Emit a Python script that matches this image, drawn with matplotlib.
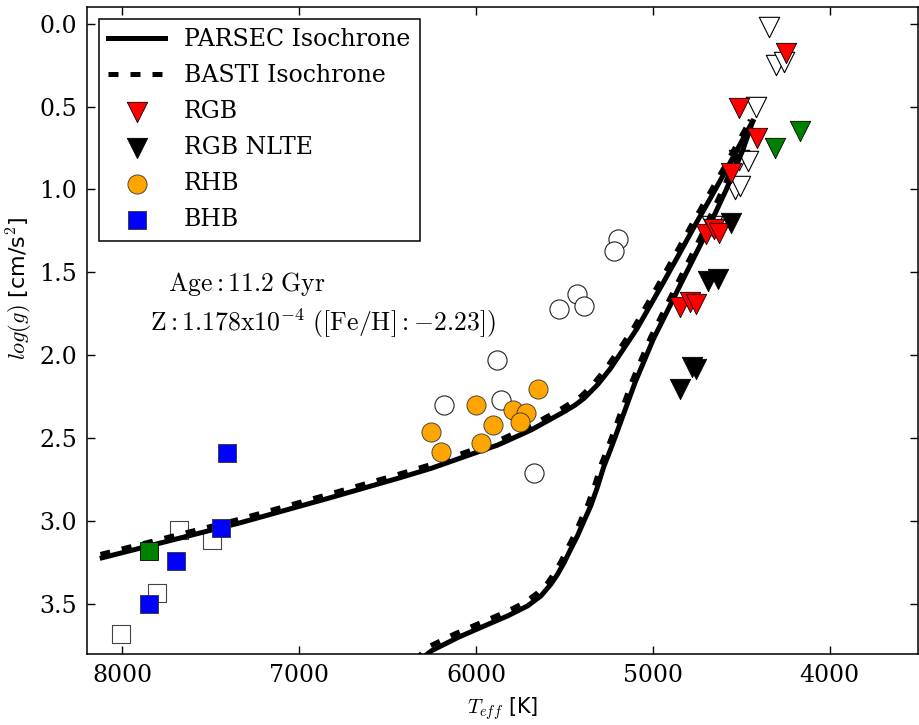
import matplotlib
matplotlib.use("Agg")
import matplotlib.pyplot as plt

plt.rcParams['mathtext.fontset'] = 'cm'
plt.rcParams['font.family'] = ['DejaVu Serif']

# ---------------- data ----------------
# PARSEC isochrone (solid): horizontal branch / AGB and RGB
parsec_hb_teff = [8114, 7337, 6831, 6438, 6251, 6064, 5876, 5689, 5502, 5440, 5390, 5315, 5240, 5165, 5090, 5015, 4940, 4846, 4753, 4678, 4584, 4472, 4435]
parsec_hb_logg = [3.22, 3.01, 2.86, 2.74, 2.68, 2.61, 2.54, 2.45, 2.34, 2.30, 2.26, 2.18, 2.08, 1.96, 1.84, 1.70, 1.56, 1.38, 1.20, 1.06, 0.88, 0.66, 0.59]
parsec_rgb_teff = [6320, 6251, 6101, 5951, 5820, 5708, 5633, 5577, 5539, 5502, 5465, 5427, 5390, 5352, 5315, 5277, 5240, 5212, 5099, 4996, 4921, 4847, 4781, 4715, 4650, 4584, 4537, 4490, 4435]
parsec_rgb_logg = [3.84, 3.78, 3.70, 3.63, 3.57, 3.51, 3.45, 3.38, 3.32, 3.25, 3.17, 3.09, 3.00, 2.91, 2.80, 2.67, 2.57, 2.49, 2.16, 1.90, 1.74, 1.58, 1.44, 1.30, 1.15, 1.00, 0.88, 0.76, 0.59]

# BASTI isochrone (dashed)
basti_hb_teff = [8124, 7347, 6841, 6448, 6261, 6075, 5887, 5700, 5514, 5453, 5404, 5330, 5256, 5181, 5106, 5031, 4956, 4862, 4769, 4693, 4598, 4484, 4446]
basti_hb_logg = [3.20, 2.99, 2.84, 2.72, 2.66, 2.59, 2.52, 2.43, 2.32, 2.28, 2.245, 2.165, 2.065, 1.95, 1.83, 1.69, 1.55, 1.37, 1.19, 1.05, 0.87, 0.65, 0.575]
basti_rgb_teff = [6345, 6275, 6122, 5970, 5838, 5724, 5650, 5594, 5556, 5518, 5481, 5443, 5406, 5368, 5331, 5293, 5256, 5228, 5115, 5012, 4937, 4863, 4797, 4731, 4666, 4600, 4553, 4505, 4448]
basti_rgb_logg = [3.84, 3.76, 3.68, 3.61, 3.55, 3.49, 3.43, 3.37, 3.31, 3.24, 3.16, 3.08, 2.99, 2.90, 2.79, 2.66, 2.56, 2.48, 2.15, 1.89, 1.73, 1.57, 1.43, 1.29, 1.14, 0.99, 0.87, 0.75, 0.58]

# RGB stars
rgb_teff = [4247, 4512, 4412, 4556, 4700, 4655, 4626, 4848, 4792, 4753]
rgb_logg = [0.18, 0.51, 0.69, 0.90, 1.27, 1.24, 1.26, 1.71, 1.68, 1.69]

# RGB NLTE
nlte_teff = [4556, 4688, 4632, 4781, 4753, 4846]
nlte_logg = [1.20, 1.55, 1.54, 2.07, 2.08, 2.20]

# RHB
rhb_teff = [5648, 5998, 5792, 5717, 5751, 5904, 6254, 5970, 6199]
rhb_logg = [2.20, 2.30, 2.33, 2.35, 2.40, 2.42, 2.46, 2.53, 2.58]

# BHB
bhb_teff = [7406, 7440, 7697, 7847]
bhb_logg = [2.59, 3.04, 3.24, 3.50]

# other (green) stars
green_tri_teff = [4309, 4169]
green_tri_logg = [0.75, 0.65]
green_sq_teff = [7847]
green_sq_logg = [3.18]

# comparison (open) stars
open_tri_teff = [4343, 4303, 4258, 4416, 4513, 4463, 4534, 4506, 4665]
open_tri_logg = [0.02, 0.25, 0.23, 0.50, 0.82, 0.83, 1.00, 0.98, 1.22]
open_circ_teff = [5198, 5219, 5427, 5390, 5530, 5882, 5858, 6180, 5671]
open_circ_logg = [1.30, 1.37, 1.63, 1.70, 1.72, 2.03, 2.27, 2.30, 2.71]
open_sq_teff = [7678, 7494, 7805, 8007]
open_sq_logg = [3.05, 3.11, 3.43, 3.68]

xlim = (8200, 3500)
ylim = (3.8, -0.1)
xticks = [8000, 7000, 6000, 5000, 4000]
yticks = [0.0, 0.5, 1.0, 1.5, 2.0, 2.5, 3.0, 3.5]

# ---------------- figure ----------------
fig = plt.figure(figsize=(9.19, 7.25), dpi=100)
ax = fig.add_axes([87/919, 1-654/725, (918-87)/919, (654-7)/725])

s_tri = 215
s_circ = 190
s_sq = 185

# open comparison markers (behind the lines)
ax.scatter(open_tri_teff, open_tri_logg, marker='v', s=s_tri, facecolor='white', edgecolor='black', linewidth=0.8, zorder=1)
ax.scatter(open_circ_teff, open_circ_logg, marker='o', s=s_circ, facecolor='white', edgecolor='#222222', linewidth=0.8, zorder=1)
ax.scatter(open_sq_teff, open_sq_logg, marker='s', s=s_sq, facecolor='white', edgecolor='#444444', linewidth=0.8, zorder=1)

lw = 3.6
dash = (0, (2.0, 2.4))
l_basti, = ax.plot(basti_hb_teff, basti_hb_logg, color='black', lw=lw, ls=dash, zorder=2, label='BASTI Isochrone')
ax.plot(basti_rgb_teff, basti_rgb_logg, color='black', lw=lw, ls=dash, zorder=2)
l_parsec, = ax.plot(parsec_hb_teff, parsec_hb_logg, color='black', lw=lw, zorder=2.1, label='PARSEC Isochrone')
ax.plot(parsec_rgb_teff, parsec_rgb_logg, color='black', lw=lw, zorder=2.1)

ax.scatter(green_tri_teff, green_tri_logg, marker='v', s=s_tri, facecolor='green', edgecolor='black', linewidth=0.6, zorder=3)
ax.scatter(green_sq_teff, green_sq_logg, marker='s', s=s_sq, facecolor='green', edgecolor='black', linewidth=0.6, zorder=3)
h_rgb = ax.scatter(rgb_teff, rgb_logg, marker='v', s=s_tri, facecolor='red', edgecolor='black', linewidth=0.6, zorder=3, label='RGB')
h_nlte = ax.scatter(nlte_teff, nlte_logg, marker='v', s=s_tri, facecolor='black', edgecolor='black', linewidth=0.6, zorder=3, label='RGB NLTE')
h_rhb = ax.scatter(rhb_teff, rhb_logg, marker='o', s=s_circ, facecolor='orange', edgecolor='#333333', linewidth=0.6, zorder=3, label='RHB')
h_bhb = ax.scatter(bhb_teff, bhb_logg, marker='s', s=s_sq, facecolor='blue', edgecolor='#333333', linewidth=0.6, zorder=3, label='BHB')

ax.set_xlim(*xlim)
ax.set_ylim(*ylim)
ax.set_xticks(xticks)
ax.set_yticks(yticks)
ax.set_yticklabels([f"{v:.1f}" for v in yticks])
ax.tick_params(direction='in', length=6, width=1, top=True, right=True, labelsize=17, pad=7)
for sp in ax.spines.values():
    sp.set_linewidth(1.1)

ax.set_xlabel(r"$T_{eff}$ [K]", fontsize=15, family='DejaVu Sans', labelpad=6)
ax.set_ylabel(r"$log(g)$ [cm/s$^2$]", fontsize=16, family='DejaVu Sans')
ax.yaxis.set_label_coords(-0.0626, 0.566)

ax.text(0.1925, 0.572, r"$\mathrm{Age:11.2\ Gyr}$", transform=ax.transAxes, ha='center', va='center', fontsize=18.5)
ax.text(0.284, 0.5116, r"$\mathrm{Z:1.178x10^{-4}\ ([Fe/H]:-2.23])}$", transform=ax.transAxes, ha='center', va='center', fontsize=18.5)

leg = ax.legend(handles=[l_parsec, l_basti, h_rgb, h_nlte, h_rhb, h_bhb], loc='upper left',
                fontsize=17, scatterpoints=1, handlelength=2.4, fancybox=False, framealpha=1,
                edgecolor='black', borderpad=0.4, labelspacing=0.55)
leg.get_frame().set_linewidth(1.1)

fig.savefig("out.png", dpi=100)
